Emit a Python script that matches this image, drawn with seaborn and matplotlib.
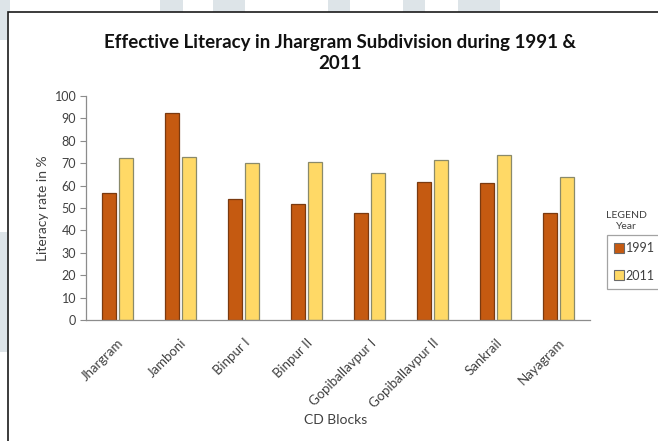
import matplotlib
matplotlib.use("Agg")
import matplotlib.pyplot as plt
import seaborn as sns
import pandas as pd
from matplotlib.patches import Rectangle
from matplotlib.lines import Line2D

blocks = ["Jhargram", "Jamboni", "Binpur I", "Binpur II", "Gopiballavpur I",
          "Gopiballavpur II", "Sankrail", "Nayagram"]
lit_1991 = [56.6, 92.3, 54.0, 51.8, 47.6, 61.7, 61.3, 47.6]
lit_2011 = [72.2, 72.9, 70.0, 70.7, 65.5, 71.4, 73.5, 64.0]
years = ["1991", "2011"]
yticks = list(range(0, 101, 10))

df = pd.DataFrame({
    "block": blocks * 2,
    "year": [years[0]] * len(blocks) + [years[1]] * len(blocks),
    "rate": lit_1991 + lit_2011,
})

sns.set_theme(style="white")
plt.rcParams["font.family"] = ["Lato", "DejaVu Sans"]

W, H = 658, 441
fig = plt.figure(figsize=(6.58, 4.41), dpi=100)
fig.patch.set_facecolor("white")


def px_rect(x0, y0, x1, y1, **kw):
    # rectangle given in pixel coordinates from the top-left corner
    return Rectangle((x0 / W, 1 - y1 / H), (x1 - x0) / W, (y1 - y0) / H,
                     transform=fig.transFigure, **kw)


# pale page backdrop peeking out around the chart border
pale = "#dde4e8"
for x0, x1 in [(0, 10), (160, 183), (213, 245), (328, 350), (403, 425), (458, 500)]:
    fig.patches.append(px_rect(x0, 0, x1, 12, facecolor=pale, edgecolor="none", zorder=0))
for y0, y1 in [(0, 40), (232, 352)]:
    fig.patches.append(px_rect(0, y0, 7, y1, facecolor=pale, edgecolor="none", zorder=0))

# outer chart border
fig.patches.append(px_rect(8, 12, W + 20, H + 20, fill=False,
                           edgecolor="#1a1a1a", linewidth=1.2, zorder=1))

ax = fig.add_axes([86 / W, 1 - 320 / H, 504 / W, 224 / H])
palette = {"1991": "#C55A11", "2011": "#FFD966"}
sns.barplot(data=df, x="block", y="rate", hue="year", palette=palette,
            width=0.56, gap=0.2, ax=ax, saturation=1, legend=False)
for bar, edge in zip(ax.patches, ["#7a3a10"] * 8 + ["#8a8a6a"] * 8):
    bar.set_edgecolor(edge)
    bar.set_linewidth(0.9)

ax.set_ylim(0, 100)
ax.set_xlim(-0.5, len(blocks) - 0.5)
ax.set_yticks(yticks)
ax.set_yticklabels([str(t) for t in yticks], fontsize=9, color="#404040")
ax.set_xticks(range(len(blocks)))
ax.set_xticklabels(blocks, rotation=45, ha="right", rotation_mode="anchor",
                   fontsize=9.5, color="#404040")
ax.tick_params(axis="y", which="both", left=True, length=4, width=0.8,
               color="#8c8c8c", pad=3)
ax.tick_params(axis="x", bottom=False, pad=6)
for side in ["top", "right"]:
    ax.spines[side].set_visible(False)
for side in ["left", "bottom"]:
    ax.spines[side].set_color("#8c8c8c")
    ax.spines[side].set_linewidth(0.9)

ax.set_ylabel("Literacy rate in %", fontsize=10, color="#404040", labelpad=4)
ax.set_xlabel("")
fig.text(336 / W, 1 - 420 / H, "CD Blocks", ha="center", va="center",
         fontsize=10, color="#404040")

fig.text(340 / W, 1 - 53 / H,
         "Effective Literacy in Jhargram Subdivision during 1991 &\n2011",
         ha="center", va="center", fontsize=13.5, fontweight="bold",
         color="#111111", linespacing=1.35)

# legend heading sits above the legend box
fig.text(626 / W, 1 - 221 / H, "LEGEND\nYear", ha="center", va="center",
         fontsize=7.5, color="#404040", linespacing=1.15)
handles = [Line2D([], [], marker="s", linestyle="none", markersize=7,
                  markerfacecolor=palette[y], markeredgecolor="#6a6a6a",
                  markeredgewidth=0.8) for y in years]
leg = fig.legend(handles, years, loc="upper left",
                 bbox_to_anchor=(607 / W, 1 - 235 / H), frameon=True,
                 fontsize=9, handlelength=0.7, handletextpad=0.2,
                 borderpad=0.6, labelspacing=1.2, borderaxespad=0)
leg.get_frame().set_edgecolor("#8c8c8c")
leg.get_frame().set_linewidth(0.9)
leg.get_frame().set_boxstyle("square", pad=0)
for t in leg.get_texts():
    t.set_color("#404040")

fig.savefig("out.png", dpi=100)
